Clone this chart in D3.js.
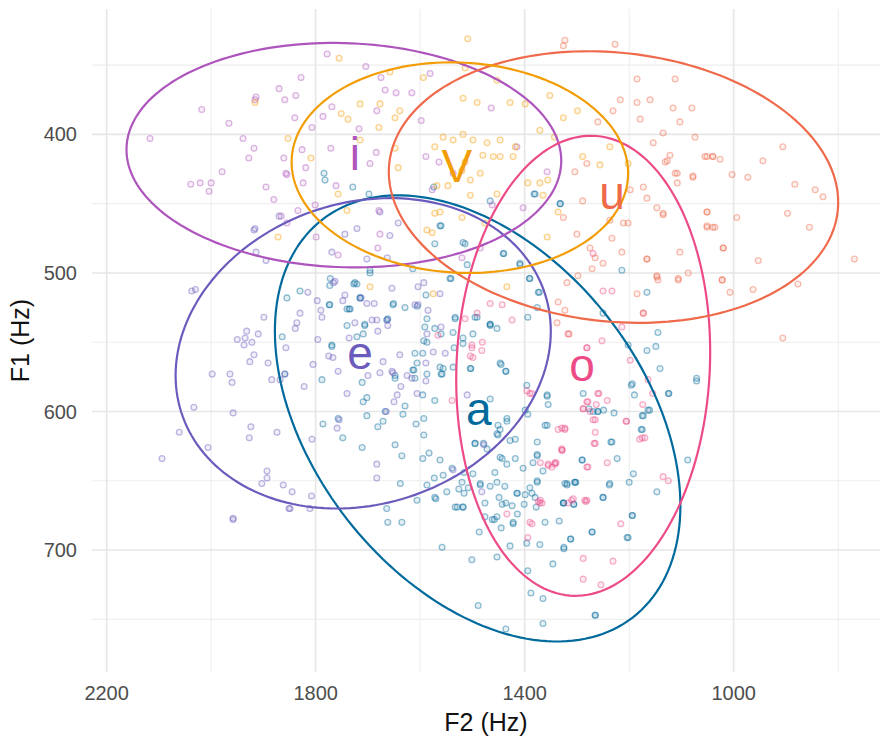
<!DOCTYPE html>
<html>
<head>
<meta charset="utf-8">
<script src="https://cdn.jsdelivr.net/npm/d3@7"></script>
<style>
  body { margin: 0; background: #fff; }
  text { font-family: "Liberation Sans", Arial, sans-serif; }
</style>
</head>
<body>
<div class="chart"></div>
<script>
// vowel categories, label text and colours
const vowels = ["a", "e", "i", "o", "u", "V"];
const vowelColors = ["#006a9c", "#6a5bbd", "#ae55bd", "#ec4b88", "#ef6a4b", "#f29d06"];

// label position = vowel means [F2, F1]
const vowelMeans = [[1488, 601], [1715, 561], [1725, 417], [1290, 569], [1233, 445], [1530, 426]];

// ellipses: [F2 centre, F1 centre, F2 half width, F1 half height, F1 shift at low-F2 extreme]
const ellipseParams = [
  [1490, 605, 388, 161, 63],
  [1709, 558, 359, 112, -16],
  [1746, 415, 416, 81, 4],
  [1288, 567, 243, 166, -10],
  [1230, 438, 430, 98, 11],
  [1524, 424, 322, 76, 4]
];

// tokens [F2, F1]
const aPoints = [[1830,513],[1855,518],[1772,504],[1774,523],[1725,507],[1734,526],[1715,518],[1696,498],[1652,523],[1629,525],[1589,516],[1572,479],[1562,466],[1518,478],[1541,504],[1491,532],[1466,537],[1453,540],[1441,486],[1409,493],[1390,504],[1374,514],[1332,450],[1380,443],[1572,540],[1591,539],[1587,550],[1535,554],[1518,551],[1537,543],[1560,544],[1595,558],[1610,558],[1612,570],[1610,576],[1587,573],[1562,568],[1558,573],[1503,569],[1445,566],[1436,571],[1706,537],[1709,544],[1721,546],[1740,538],[1769,552],[1788,577],[1711,579],[1648,576],[1595,588],[1572,592],[1629,596],[1667,600],[1702,590],[1709,593],[1633,602],[1671,607],[1681,611],[1702,603],[1757,605],[1786,609],[1748,619],[1711,626],[1648,624],[1635,632],[1608,609],[1593,605],[1593,617],[1583,630],[1562,635],[1595,634],[1638,652],[1587,653],[1572,662],[1556,646],[1539,641],[1520,651],[1508,655],[1549,658],[1533,669],[1518,669],[1485,653],[1453,651],[1495,623],[1479,623],[1447,633],[1457,644],[1447,613],[1434,607],[1451,617],[1472,627],[1418,620],[1415,659],[1399,660],[1386,659],[1424,668],[1443,667],[1462,678],[1422,680],[1376,651],[1365,643],[1376,632],[1319,652],[1304,651],[1326,666],[1306,667],[1290,635],[1357,588],[1355,595],[1394,602],[1357,610],[1376,622],[1288,587],[1269,600],[1664,670],[1662,680],[1635,680],[1606,664],
  [1277,598],[1260,600],[1249,599],[1229,601],[1235,622],[1223,634],[1290,635],[1304,651],[1319,653],[1238,653],[1200,651],[1192,645],[1325,666],[1306,667],[1250,662],[1194,675],[1271,687],[1202,691],[1312,692],[1325,698],[1147,658],[1088,635],[1175,603],[1175,613],[1161,599],[1124,587],[1071,578],[1196,581],[1265,747],
  [1489,740],[1436,757],[1365,753],[1365,735],[1388,731],[1265,747],[1394,715],[1346,710],[1325,699],[1371,696],[1396,695],[1428,697],[1453,705],[1501,707],[1558,698],[1487,687],[1445,684],[1422,681],[1334,679],[1361,680],[1312,692],[1271,687],[1204,691],[1194,675],[1414,674],[1458,678],[1529,669],[1518,669],[1401,667],[1378,669],[1326,666],
  [1071,576],[1125,587],[1141,569],[1145,543],[1149,553],[1166,556],[1202,552],[1250,529],[1166,514],[1214,498],[1233,622],[1260,600],[1194,580],[1190,588],[1173,603],[1177,613],[1164,599],[1237,652],[1250,662],[1302,651],[1323,652],[1376,650],[1390,655],[1380,662],[1376,631],[1361,610],[1357,589],[1396,581],[1399,599],[1447,565],[1436,571],[1466,591],[1451,610],[1434,605],[1428,621],[1453,616],[1495,623],[1443,634],[1418,634],[1414,659],[1466,654],[1485,652],[1537,568],[1556,569],[1560,573],[1504,569],[1518,547],[1533,533],[1499,544],[1466,537],
  [1574,438],[1698,443],[1729,438],[1784,428],[1782,433],[1560,466],[1466,448],[1382,443],[1332,450],[1514,479],[1440,486],[1409,494],[1391,504],[1372,514],[1510,494],[1543,504],[1614,497],[1696,500],[1721,508],[1773,509],[1715,518],[1651,522],[1606,524],[1740,526],[1773,523],[1706,538],[1664,534],[1587,533],[1533,532],[1495,532],[1466,538],[1394,532],[1376,525],
  [1434,638],[1384,637],[1403,641],[1573,648],[1516,644],[1499,645],[1526,656],[1516,659],[1570,663],[1438,654],[1449,662],[1436,666],[1476,666],[1453,676],[1476,676],[1727,508],[1736,526],[1662,533],[1593,549],[1606,565],[1614,570],[1864,546],[1769,553],[1859,573],[1648,574]];

const ePoints = [[2094,634],[2061,615],[2033,597],[2006,626],[1998,573],[1964,573],[1960,579],[1958,601],[1950,548],[1935,547],[1937,552],[1922,550],[1910,544],[1932,542],[1926,564],[1918,559],[1924,611],[1927,619],[1874,615],[1899,532],[1891,565],[1884,577],[1868,577],[1859,573],[1862,653],[1845,658],[1893,643],[1893,648],[1903,652],[1849,670],[1958,677],[2037,513],[2030,512],[1916,468],[1914,485],[1895,491],[1870,459],[1839,540],[1822,582],[1807,620],[1808,661],[1805,566],[1857,554],[1788,532],[1790,527],[1767,561],[1757,571],[1748,520],[1740,587],[1759,612],[1702,522],[1692,534],[1683,534],[1681,542],[1662,538],[1663,534],[1671,564],[1652,572],[1650,593],[1665,600],[1644,588],[1637,582],[1625,574],[1616,576],[1606,587],[1585,527],[1604,510],[1589,578],[1575,557],[1560,539],[1552,558],[1562,515],[1510,588],[1654,511],[1683,638],[1683,648],[1755,606],[1663,489],[1702,490],[1744,472],[1769,485],[1721,468],[1658,473],[1642,464],[1677,456],[1763,506],[1797,520],[1918,469],[1958,678],[1851,670],[1811,670],
  [1478,624],[1537,642],[1482,658],[1766,507],[1815,514],[1744,516],[1713,518],[1688,522],[1593,507],[1830,529],[1836,536],[1725,536],[1610,523],[1604,523],[1796,548],[1736,547],[1775,560],[1700,574],[1639,559],[1654,571],[1677,572],[1587,544],[1589,565]];

const iPoints = [[2117,403],[2018,382],[1966,392],[1939,403],[1918,410],[1928,417],[1979,427],[2039,436],[2021,435],[2000,435],[2004,441],[1895,438],[1880,447],[1866,459],[1861,417],[1857,428],[1840,388],[1838,372],[1859,375],[1870,367],[1914,373],[1916,375],[1834,455],[1778,342],[1828,359],[1769,380],[1683,383],[1667,368],[1646,370],[1675,359],[1704,351],[1807,395],[1786,387],[1826,411],[1771,410],[1717,396],[1684,413],[1696,421],[1819,424],[1824,435],[1855,429],[1679,455],[1761,437],[1589,416],[1581,356],[1616,370],[1598,390],[1564,420],[1537,428],[1577,440],[1757,487],[1799,474],[1855,464],[1801,451],[1681,482],[1677,472],[1464,381],[1415,409],[1403,453],[1357,427],[1462,451],[1485,482],[1520,489]];

const oPoints = [[1258,587],[1242,592],[1279,593],[1263,595],[1288,598],[1265,606],[1265,615],[1267,623],[1205,607],[1155,587],[1174,595],[1180,620],[1170,619],[1242,637],[1279,640],[1329,628],[1323,612],[1135,647],[1125,650],[1283,665],[1310,664],[1216,681],[1288,706],[1231,708],[1288,721],[1254,725],
  [1281,554],[1252,549],[1198,563],[1164,577],[1260,587],[1281,593],[1269,606],[1329,612],[1342,638],[1355,638],[1281,640],[1265,623],[1175,619],[1206,607],[1390,587],[1370,664],[1281,664],[1424,534],[1443,523],[1466,522],[1501,554],[1482,556],[1499,561],[1317,544],[1214,539],[1233,513],[1250,513],[1173,529],[1269,486],
  [1514,533],[1491,529],[1481,550],[1501,552],[1504,560],[1566,545],[1539,592],[1396,585],[1386,587],[1336,613],[1323,613],[1329,627],[1355,639],[1342,637],[1371,666],[1390,680],[1434,674],[1281,554],[1288,598],[1275,600],[1285,664],[1317,666],
  [1328,628],[1370,637],[1348,640],[1340,637],[1374,665],[1367,666],[1307,663],[1386,681],[1394,691]];

const uPoints = [[906,409],[944,419],[883,436],[844,440],[829,445],[897,457],[855,467],[953,491],[877,508],[769,490],[906,547],[963,512],[1007,514],[1022,505],[1020,482],[994,460],[973,431],[1003,429],[1026,418],[1055,416],[1040,416],[1051,456],[1036,467],[1051,466],[1078,431],[1108,435],[1112,428],[1131,420],[1122,415],[1135,458],[1103,485],[1087,500],[1106,505],[1145,505],[1147,503],[1166,490],[1173,529],[1185,515],[1202,464],[1214,485],[1250,493],[1265,489],[1298,502],[1319,507],[1336,521],[1323,527],[1315,544],[1338,536],[1233,475],[1237,462],[1275,482],[1271,497],[1300,472],[1326,460],[1289,448],[1281,421],[1304,427],[1198,440],[1166,446],
  [1326,336],[1185,360],[1112,360],[1160,375],[1185,377],[1217,375],[1116,381],[1080,381],[1179,389],[1103,391],[1260,391],[1231,383],[1135,399],[1154,406],[1074,402],[1051,416],[1040,416],[1108,428],[1078,430],[1127,419],[1173,438],[1147,453],[1135,457],[1051,456],[1051,467],[1040,467],[1020,482],[1211,464],[1166,490],[1147,502],[1106,504],[1022,505],[1227,335],[1323,332]];

const vPoints = [[1755,345],[1509,331],[1514,352],[1594,359],[1658,355],[1677,378],[1715,378],[1751,385],[1738,389],[1679,395],[1648,388],[1639,383],[1556,402],[1518,374],[1491,377],[1518,400],[1472,406],[1428,377],[1453,361],[1399,378],[1352,372],[1371,397],[1343,402],[1326,388],[1299,383],[1422,416],[1447,416],[1485,428],[1504,433],[1520,426],[1547,437],[1568,437],[1642,424],[1648,410],[1715,404],[1809,417],[1757,443],[1740,455],[1572,457],[1562,456],[1587,469],[1577,471],[1520,460],[1476,464],[1453,443],[1504,444],[1371,435],[1394,435],[1365,444],[1356,433],[1289,416],[1256,422],[1237,409],[1202,421],[1357,474],[1336,456],[1434,510],[1575,515],[1696,510],[1916,377],[1853,403],[1872,474],[1572,409],[1537,404],[1499,404],[1480,415],[1460,416],[1447,404],[1418,409],[1514,420]];

const pointSets = [aPoints, ePoints, iPoints, oPoints, uPoints, vPoints];

// axis ticks
const f2Major = [2200, 1800, 1400, 1000];
const f2Minor = [2000, 1600, 1200, 800];
const f1Major = [400, 500, 600, 700];
const f1Minor = [350, 450, 550, 650, 750];

function drawChart(container_name) {
  const width = 882, height = 739;
  const panel = {left: 92, right: 880, top: 9, bottom: 672};

  const svg = d3.select("." + container_name)
    .append("svg")
    .attr("width", width)
    .attr("height", height);

  // reversed axes, as in a vowel chart
  const x = d3.scaleLinear().domain([2228, 720]).range([panel.left, panel.right]);
  const y = d3.scaleLinear().domain([309.5, 788]).range([panel.top, panel.bottom]);

  const grid = svg.append("g");
  grid.selectAll(".xminor").data(f2Minor).enter().append("line")
    .attr("x1", d => x(d)).attr("x2", d => x(d))
    .attr("y1", panel.top).attr("y2", panel.bottom)
    .attr("stroke", "#eeeeee").attr("stroke-width", 1.1);
  grid.selectAll(".yminor").data(f1Minor).enter().append("line")
    .attr("x1", panel.left).attr("x2", panel.right)
    .attr("y1", d => y(d)).attr("y2", d => y(d))
    .attr("stroke", "#eeeeee").attr("stroke-width", 1.1);
  grid.selectAll(".xmajor").data(f2Major).enter().append("line")
    .attr("x1", d => x(d)).attr("x2", d => x(d))
    .attr("y1", panel.top).attr("y2", panel.bottom)
    .attr("stroke", "#e6e6e6").attr("stroke-width", 1.6);
  grid.selectAll(".ymajor").data(f1Major).enter().append("line")
    .attr("x1", panel.left).attr("x2", panel.right)
    .attr("y1", d => y(d)).attr("y2", d => y(d))
    .attr("stroke", "#e6e6e6").attr("stroke-width", 1.6);

  // tick labels
  svg.selectAll(".xlab").data(f2Major).enter().append("text")
    .attr("x", d => x(d)).attr("y", 700)
    .attr("text-anchor", "middle")
    .attr("font-size", 20).attr("fill", "#4d4d4d")
    .text(d => d);
  svg.selectAll(".ylab").data(f1Major).enter().append("text")
    .attr("x", 77).attr("y", d => y(d) + 7)
    .attr("text-anchor", "end")
    .attr("font-size", 20).attr("fill", "#4d4d4d")
    .text(d => d);

  // axis titles
  svg.append("text")
    .attr("x", (panel.left + panel.right) / 2).attr("y", 731)
    .attr("text-anchor", "middle").attr("font-size", 25).attr("fill", "#111")
    .text("F2 (Hz)");
  svg.append("text")
    .attr("transform", `translate(29, ${(panel.top + panel.bottom) / 2}) rotate(-90)`)
    .attr("text-anchor", "middle").attr("font-size", 25).attr("fill", "#111")
    .text("F1 (Hz)");

  // tokens
  pointSets.forEach(function(pts, i) {
    svg.append("g").selectAll("circle").data(pts).enter().append("circle")
      .attr("cx", d => x(d[0]))
      .attr("cy", d => y(d[1]))
      .attr("r", 2.9)
      .attr("fill", vowelColors[i]).attr("fill-opacity", 0.1)
      .attr("stroke", vowelColors[i]).attr("stroke-opacity", 0.42)
      .attr("stroke-width", 1.3);
  });

  // ellipses
  const line = d3.line().x(d => x(d[0])).y(d => y(d[1])).curve(d3.curveLinearClosed);
  const steps = d3.range(0, 2 * Math.PI, Math.PI / 90);
  ellipseParams.forEach(function(p, i) {
    const [cx, cy, w, h, shift] = p;
    const k = Math.sqrt(h * h - shift * shift);
    const pts = steps.map(t => [cx - w * Math.cos(t), cy + shift * Math.cos(t) + k * Math.sin(t)]);
    svg.append("path")
      .attr("d", line(pts))
      .attr("fill", "none")
      .attr("stroke", vowelColors[i])
      .attr("stroke-width", 2.2);
  });

  // vowel labels
  svg.selectAll(".vowel").data(vowels).enter().append("text")
    .attr("x", (d, i) => x(vowelMeans[i][0]))
    .attr("y", (d, i) => y(vowelMeans[i][1]) + 12)
    .attr("text-anchor", "middle")
    .attr("font-size", 46)
    .attr("fill", (d, i) => vowelColors[i])
    .text(d => d);
}

drawChart("chart");
</script>
</body>
</html>
